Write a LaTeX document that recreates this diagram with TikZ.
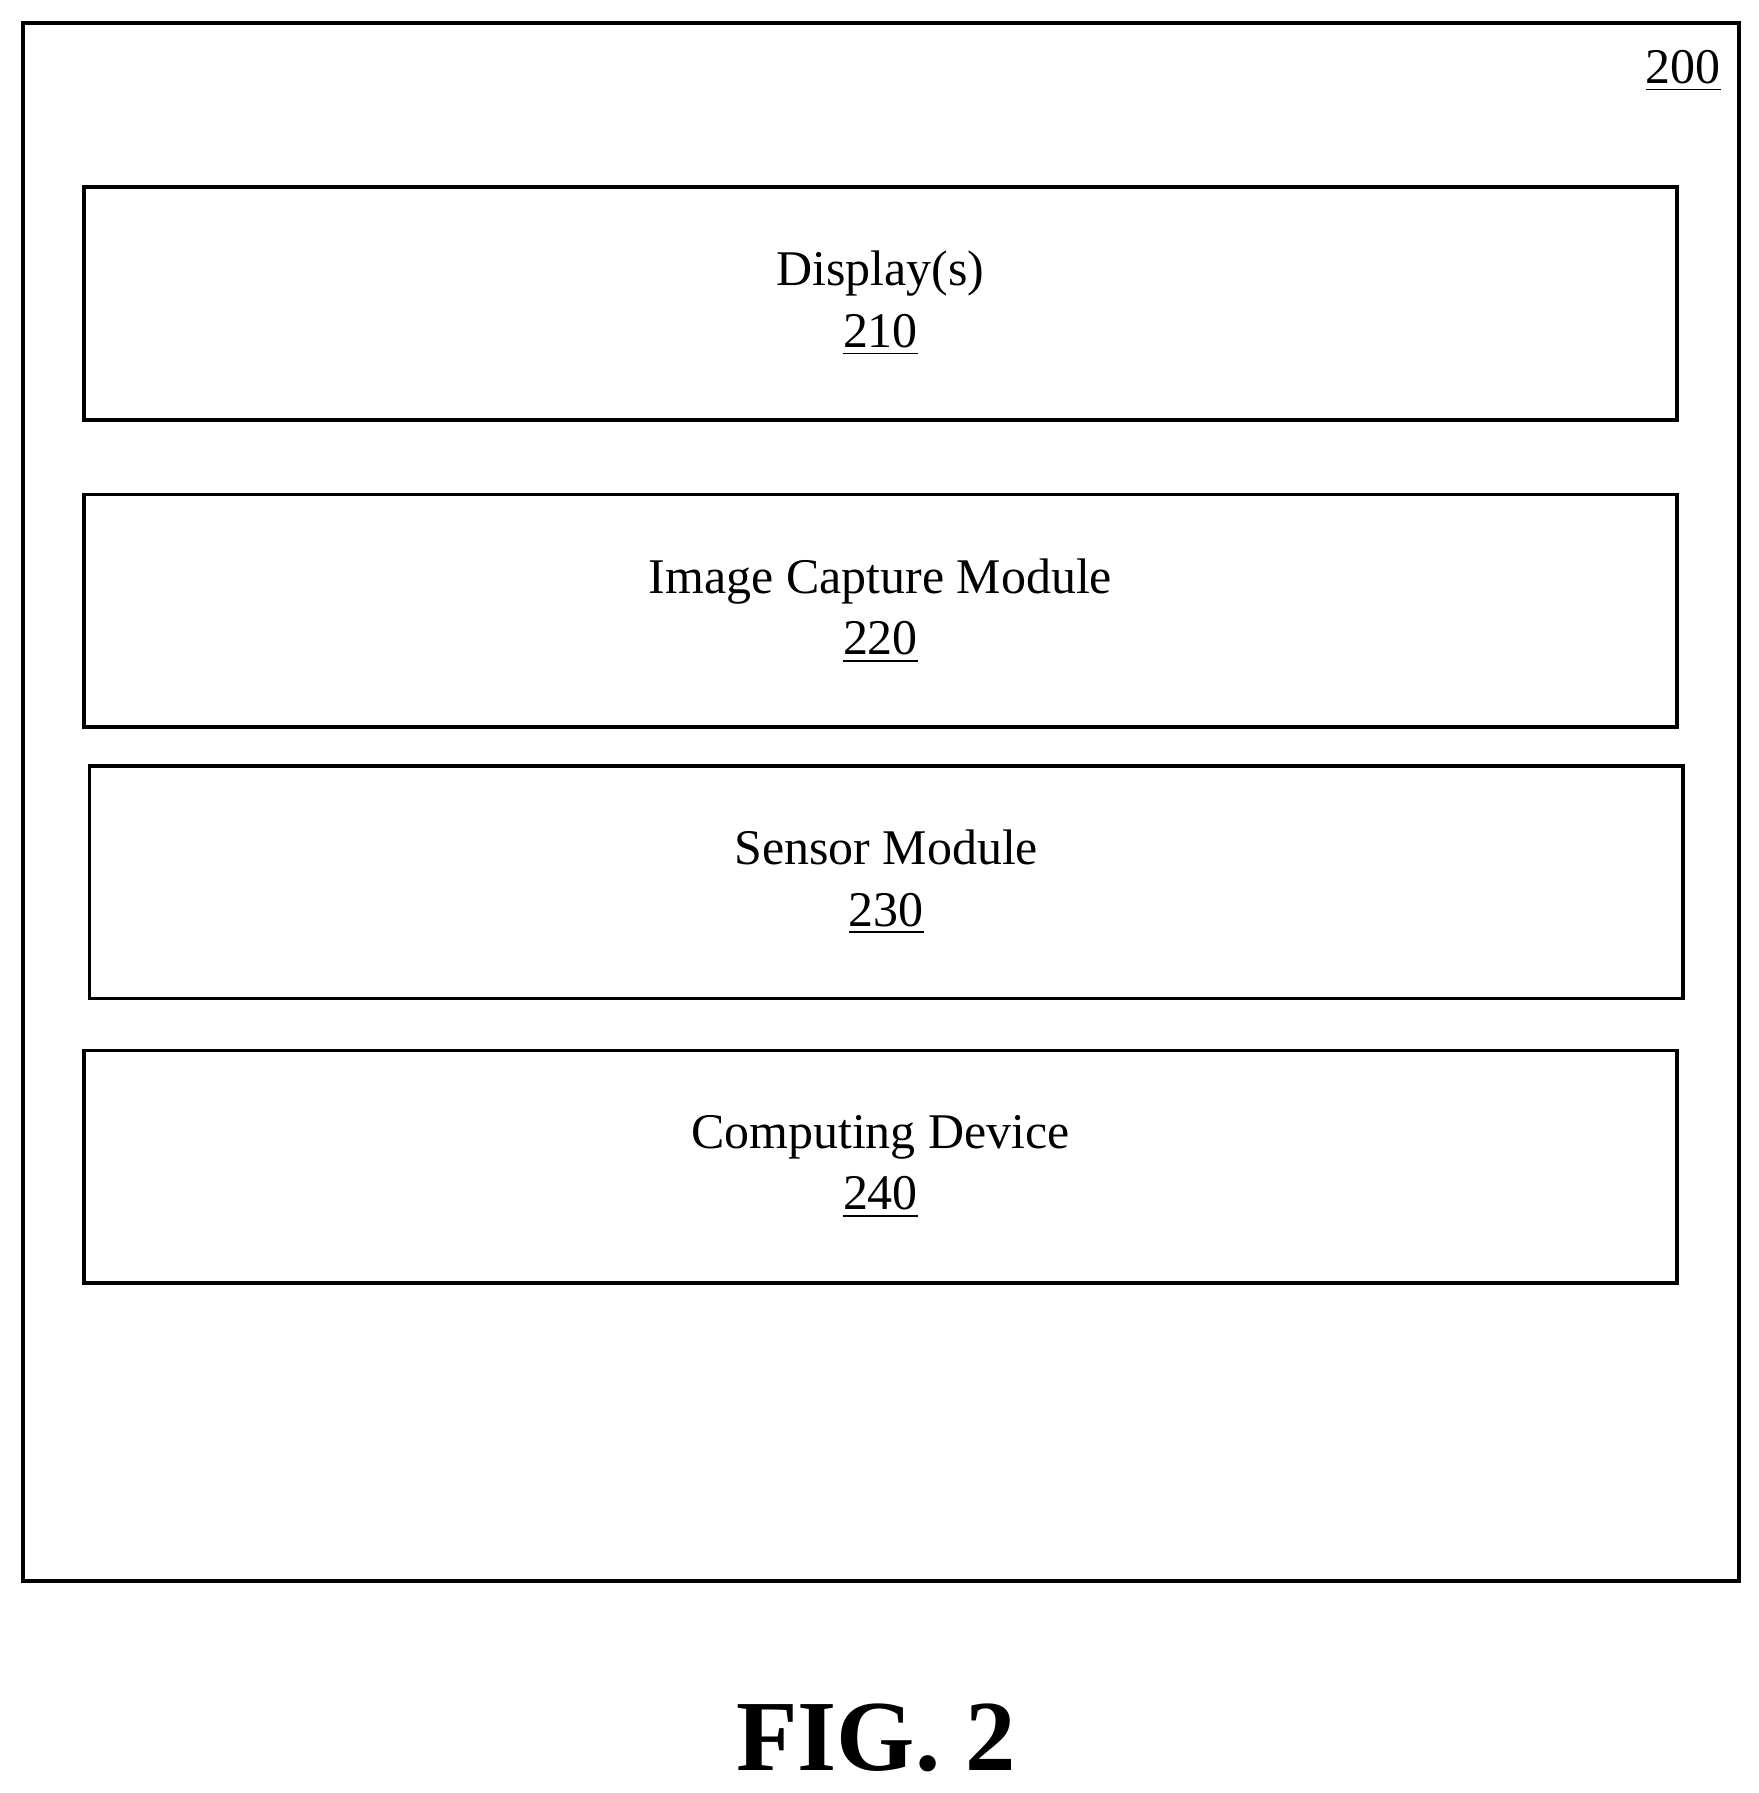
\documentclass[tikz,border=0pt]{standalone}
\usepackage{fontspec}
\setmainfont{Liberation Serif}
\tikzset{
  module/.style={draw, line width=0.9pt, minimum width=13.91cm, minimum height=2.03cm,
    align=center, font=\fontsize{12.4}{15.3}\selectfont},
}
\begin{document}
\begin{tikzpicture}[x=0.01cm, y=-0.01cm]
  \useasboundingbox (0,0) rectangle (1536,1566);
  \draw[line width=0.9pt] (20,20) rectangle (1519,1381);
  \node[font=\fontsize{12.4}{15}\selectfont] (200) at (1470,62) {\underline{200}};
  \node[module] (210) at (769,265) {Display(s)\\\underline{210}};
  \node[module] (220) at (769,533.5) {Image Capture Module\\\underline{220}};
  \node[module] (230) at (774,770.5) {Sensor Module\\\underline{230}};
  \node[module] (240) at (769,1019) {Computing Device\\\underline{240}};
  \node[font=\fontsize{25}{30}\selectfont\bfseries] (fig) at (765,1518) {FIG. 2};
\end{tikzpicture}
\end{document}
